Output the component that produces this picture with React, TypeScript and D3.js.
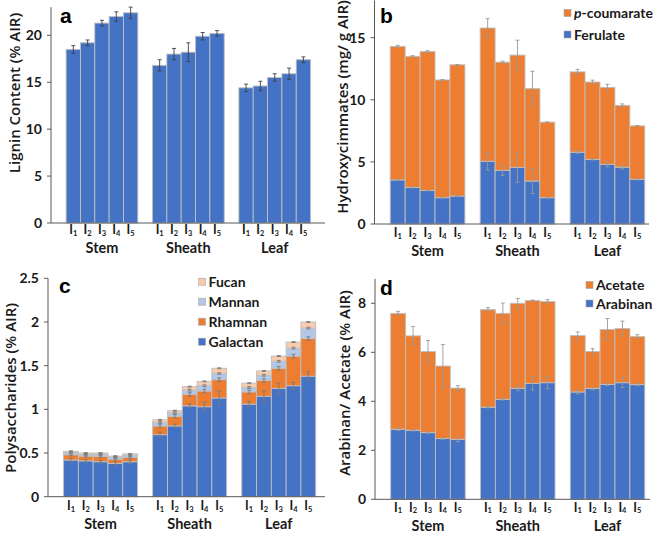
import React from "react";
import * as d3 from "d3";

const groups = ["Stem", "Sheath", "Leaf"];
const stages = ["1", "2", "3", "4", "5"];

// Panel a: lignin (% AIR)
const lignin = [18.5, 19.2, 21.3, 22.0, 22.4, 16.8, 18.0, 18.2, 19.9, 20.2, 14.4, 14.6, 15.5, 15.9, 17.4];
const ligninErr = [0.4, 0.3, 0.3, 0.5, 0.6, 0.6, 0.6, 1.0, 0.4, 0.3, 0.4, 0.5, 0.4, 0.6, 0.3];

// Panel b: hydroxycinnamates (mg/g AIR)
const ferulate = [3.55, 2.95, 2.7, 2.12, 2.25, 5.05, 4.32, 4.56, 3.46, 2.12, 5.78, 5.2, 4.8, 4.58, 3.6];
const ferulateErr = [0.05, 0.05, 0.03, 0.05, 0.05, 0.7, 0.4, 1.2, 1.0, 0.05, 0.08, 0.05, 0.2, 0.15, 0.05];
const coumarate = [10.75, 10.55, 11.18, 9.48, 10.57, 10.73, 8.71, 9.04, 7.44, 6.08, 6.47, 6.23, 6.2, 4.97, 4.3];
const coumarateErr = [0.08, 0.05, 0.08, 0.02, 0.02, 0.75, 0.08, 1.2, 1.4, 0.02, 0.2, 0.15, 0.25, 0.12, 0.02];

// Panel c: polysaccharides (% AIR)
const galactan = [0.42, 0.41, 0.40, 0.38, 0.40, 0.71, 0.81, 1.04, 1.03, 1.13, 1.06, 1.15, 1.24, 1.27, 1.38];
const galactanErr = [0.02, 0.015, 0.015, 0.02, 0.02, 0.03, 0.02, 0.02, 0.05, 0.08, 0.03, 0.06, 0.06, 0.04, 0.05];
const rhamnan = [0.06, 0.055, 0.06, 0.05, 0.05, 0.10, 0.11, 0.13, 0.18, 0.21, 0.14, 0.18, 0.23, 0.34, 0.43];
const rhamnanErr = [0.01, 0.01, 0.01, 0.01, 0.01, 0.02, 0.02, 0.02, 0.02, 0.02, 0.02, 0.02, 0.02, 0.02, 0.02];
const mannan = [0.025, 0.02, 0.025, 0.02, 0.025, 0.04, 0.04, 0.05, 0.06, 0.07, 0.05, 0.06, 0.08, 0.09, 0.12];
const mannanErr = [0.005, 0.005, 0.005, 0.005, 0.005, 0.01, 0.01, 0.01, 0.01, 0.01, 0.01, 0.01, 0.01, 0.01, 0.01];
const fucan = [0.015, 0.015, 0.015, 0.015, 0.015, 0.03, 0.025, 0.04, 0.05, 0.06, 0.05, 0.05, 0.06, 0.07, 0.07];
const fucanErr = [0.005, 0.005, 0.005, 0.005, 0.005, 0.005, 0.005, 0.005, 0.005, 0.005, 0.005, 0.005, 0.005, 0.005, 0.005];

// Panel d: arabinan / acetate (% AIR)
const arabinan = [2.86, 2.82, 2.72, 2.48, 2.45, 3.76, 4.08, 4.53, 4.73, 4.76, 4.38, 4.52, 4.69, 4.76, 4.68];
const arabinanErr = [0.05, 0.03, 0.03, 0.03, 0.1, 0.03, 0.03, 0.1, 0.27, 0.25, 0.08, 0.05, 0.05, 0.2, 0.05];
const acetate = [4.73, 3.85, 3.31, 2.96, 2.09, 3.98, 3.51, 3.47, 3.38, 3.31, 2.30, 1.51, 2.24, 2.21, 1.96];
const acetateErr = [0.08, 0.38, 0.45, 0.88, 0.1, 0.08, 0.42, 0.2, 0.02, 0.08, 0.15, 0.12, 0.45, 0.3, 0.08];

const ticksA = [0, 5, 10, 15, 20];
const ticksB = [0, 5, 10, 15];
const ticksC = [0, 0.5, 1, 1.5, 2, 2.5];
const ticksD = [0, 2, 4, 6, 8];

const BLUE = "#4472C4";
const ORANGE = "#ED7D31";
const LBLUE = "#B4C7E7";
const PEACH = "#F8CBAD";

type Series = { name: string; values: number[]; errors: number[]; color: string; italicP?: boolean };

type PanelCfg = {
  letter: string;
  letterX: number;
  letterY: number;
  axisX: number;
  axisEnd: number;
  bandRange: [number, number];
  yRef: [number, number];
  yRefPx: [number, number];
  yMax: number;
  ticks: number[];
  series: Series[];
  errColor: string;
  title: string;
  titleX: number;
  titleY: number;
  tickBase: number;
  catBase: number;
  legend?: { x: number; y: number; step: number };
};

const FONT = "'Open Sans', 'DejaVu Sans', sans-serif";
const LATO = "Lato, 'Open Sans', sans-serif";

function Panel({ cfg }: { cfg: PanelCfg }) {
  const y = d3.scaleLinear().domain(cfg.yRef).range(cfg.yRefPx);
  const outer = d3
    .scaleBand<string>()
    .domain(groups)
    .range(cfg.bandRange)
    .paddingInner(0.17)
    .paddingOuter(0.175);
  const inner = d3.scaleBand<string>().domain(stages).range([0, outer.bandwidth()]).padding(0);
  const base = y(0);
  const items: JSX.Element[] = [];
  const errs: JSX.Element[] = [];
  const n = groups.length * stages.length;
  for (let i = 0; i < n; i++) {
    const g = groups[Math.floor(i / stages.length)];
    const s = stages[i % stages.length];
    const x = (outer(g) ?? 0) + (inner(s) ?? 0);
    const w = inner.bandwidth();
    let cum = 0;
    cfg.series.forEach((ser, k) => {
      const v0 = cum;
      const v1 = cum + ser.values[i];
      cum = v1;
      items.push(
        <rect
          key={`b${i}-${k}`}
          x={x}
          y={y(v1)}
          width={w}
          height={y(v0) - y(v1)}
          fill={ser.color}
          stroke="#BFBFBF"
          strokeWidth={0.9}
        />
      );
      const e = ser.errors[i];
      const cx = x + w / 2;
      errs.push(
        <g key={`e${i}-${k}`} stroke={cfg.errColor} strokeWidth={0.9}>
          <line x1={cx} x2={cx} y1={y(v1 - e)} y2={y(v1 + e)} />
          <line x1={cx - 2} x2={cx + 2} y1={y(v1 - e)} y2={y(v1 - e)} />
          <line x1={cx - 2} x2={cx + 2} y1={y(v1 + e)} y2={y(v1 + e)} />
        </g>
      );
    });
  }
  return (
    <g>
      {items}
      {errs}
      <line x1={cfg.axisX} x2={cfg.axisX} y1={y(cfg.yMax)} y2={base} stroke="#595959" strokeWidth={1} />
      <line x1={cfg.axisX} x2={cfg.axisEnd} y1={base} y2={base} stroke="#595959" strokeWidth={1} />
      {cfg.ticks.map((t) => (
        <g key={`t${t}`}>
          <line x1={cfg.axisX - 4} x2={cfg.axisX} y1={y(t)} y2={y(t)} stroke="#595959" strokeWidth={1} />
          <text
            x={cfg.axisX - 9}
            y={y(t)}
            dy="0.36em"
            textAnchor="end"
            fontFamily={LATO}
            fontWeight={700}
            fontSize={14}
            fill="#1a1a1a"
          >
            {String(t)}
          </text>
        </g>
      ))}
      {groups.map((g) =>
        stages.map((s) => (
          <text
            key={`x${g}${s}`}
            x={(outer(g) ?? 0) + (inner(s) ?? 0) + inner.bandwidth() / 2}
            y={cfg.tickBase}
            textAnchor="middle"
            fontFamily={LATO}
            fontWeight={700}
            fontSize={12.5}
            fill="#1a1a1a"
          >
            I<tspan fontSize={7.5} dy={1.5}>{s}</tspan>
          </text>
        ))
      )}
      {groups.map((g) => (
        <text
          key={`c${g}`}
          x={(outer(g) ?? 0) + outer.bandwidth() / 2}
          y={cfg.catBase}
          textAnchor="middle"
          fontFamily={LATO}
          fontWeight={700}
          fontSize={14.5}
          fill="#1a1a1a"
        >
          {g}
        </text>
      ))}
      <text
        transform={`translate(${cfg.titleX},${cfg.titleY}) rotate(-90)`}
        textAnchor="middle"
        dy="0.35em"
        fontFamily={FONT}
        fontWeight={600}
        fontSize={15}
        fill="#1a1a1a"
      >
        {cfg.title}
      </text>
      <text
        x={cfg.letterX}
        y={cfg.letterY}
        fontFamily="'Liberation Sans', Arial, sans-serif"
        fontWeight={700}
        fontSize={21}
        fill="#000"
      >
        {cfg.letter}
      </text>
      {cfg.legend &&
        [...cfg.series].reverse().map((ser, k) => {
          const ly = cfg.legend!.y + k * cfg.legend!.step;
          return (
            <g key={`l${k}`}>
              <rect x={cfg.legend!.x} y={ly - 3.5} width={7} height={7} fill={ser.color} stroke="#A6A6A6" strokeWidth={0.6} />
              <text
                x={cfg.legend!.x + 10}
                y={ly}
                dy="0.36em"
                fontFamily={LATO}
                fontWeight={700}
                fontSize={14}
                fill="#1a1a1a"
              >
                {ser.italicP ? (
                  <>
                    <tspan fontStyle="italic">p</tspan>-coumarate
                  </>
                ) : (
                  ser.name
                )}
              </text>
            </g>
          );
        })}
    </g>
  );
}

const panels: PanelCfg[] = [
  {
    letter: "a",
    letterX: 60,
    letterY: 23,
    axisX: 51,
    axisEnd: 325,
    bandRange: [51, 325.7],
    yRef: [0, 20],
    yRefPx: [223, 35.3],
    yMax: 23,
    ticks: ticksA,
    series: [{ name: "Lignin", values: lignin, errors: ligninErr, color: BLUE }],
    errColor: "#404040",
    title: "Lignin Content (% AIR)",
    titleX: 15,
    titleY: 93,
    tickBase: 234,
    catBase: 253,
  },
  {
    letter: "b",
    letterX: 380,
    letterY: 23,
    axisX: 374.5,
    axisEnd: 649,
    bandRange: [374.5, 660.5],
    yRef: [0, 15],
    yRefPx: [224, 37.7],
    yMax: 18,
    ticks: ticksB,
    series: [
      { name: "Ferulate", values: ferulate, errors: ferulateErr, color: BLUE },
      { name: "p-coumarate", values: coumarate, errors: coumarateErr, color: ORANGE, italicP: true },
    ],
    errColor: "#9a9a9a",
    title: "Hydroxycimmates (mg/ g AIR)",
    titleX: 343,
    titleY: 107,
    tickBase: 237,
    catBase: 256,
    legend: { x: 564, y: 13, step: 21.5 },
  },
  {
    letter: "c",
    letterX: 59,
    letterY: 293,
    axisX: 48,
    axisEnd: 325,
    bandRange: [48, 331.3],
    yRef: [0, 2.5],
    yRefPx: [496.7, 278.3],
    yMax: 2.5,
    ticks: ticksC,
    series: [
      { name: "Galactan", values: galactan, errors: galactanErr, color: BLUE },
      { name: "Rhamnan", values: rhamnan, errors: rhamnanErr, color: ORANGE },
      { name: "Mannan", values: mannan, errors: mannanErr, color: LBLUE },
      { name: "Fucan", values: fucan, errors: fucanErr, color: PEACH },
    ],
    errColor: "#7a7a7a",
    title: "Polysaccharides (% AIR)",
    titleX: 10.5,
    titleY: 388,
    tickBase: 510,
    catBase: 528.5,
    legend: { x: 198.5, y: 281.7, step: 20 },
  },
  {
    letter: "d",
    letterX: 380,
    letterY: 295,
    axisX: 375,
    axisEnd: 650,
    bandRange: [375, 660.5],
    yRef: [0, 8],
    yRefPx: [499.3, 303.3],
    yMax: 9,
    ticks: ticksD,
    series: [
      { name: "Arabinan", values: arabinan, errors: arabinanErr, color: BLUE },
      { name: "Acetate", values: acetate, errors: acetateErr, color: ORANGE },
    ],
    errColor: "#9a9a9a",
    title: "Arabinan/ Acetate (% AIR)",
    titleX: 345,
    titleY: 383,
    tickBase: 511.5,
    catBase: 530.5,
    legend: { x: 586, y: 285, step: 18.5 },
  },
];

export default function App() {
  return (
    <svg
      width={661}
      height={533}
      viewBox="0 0 661 533"
      style={{ position: "absolute", left: 0, top: 0, background: "#fff" }}
    >
      <rect x={0} y={0} width={661} height={533} fill="#fff" />
      {panels.map((p) => (
        <Panel key={p.letter} cfg={p} />
      ))}
    </svg>
  );
}
